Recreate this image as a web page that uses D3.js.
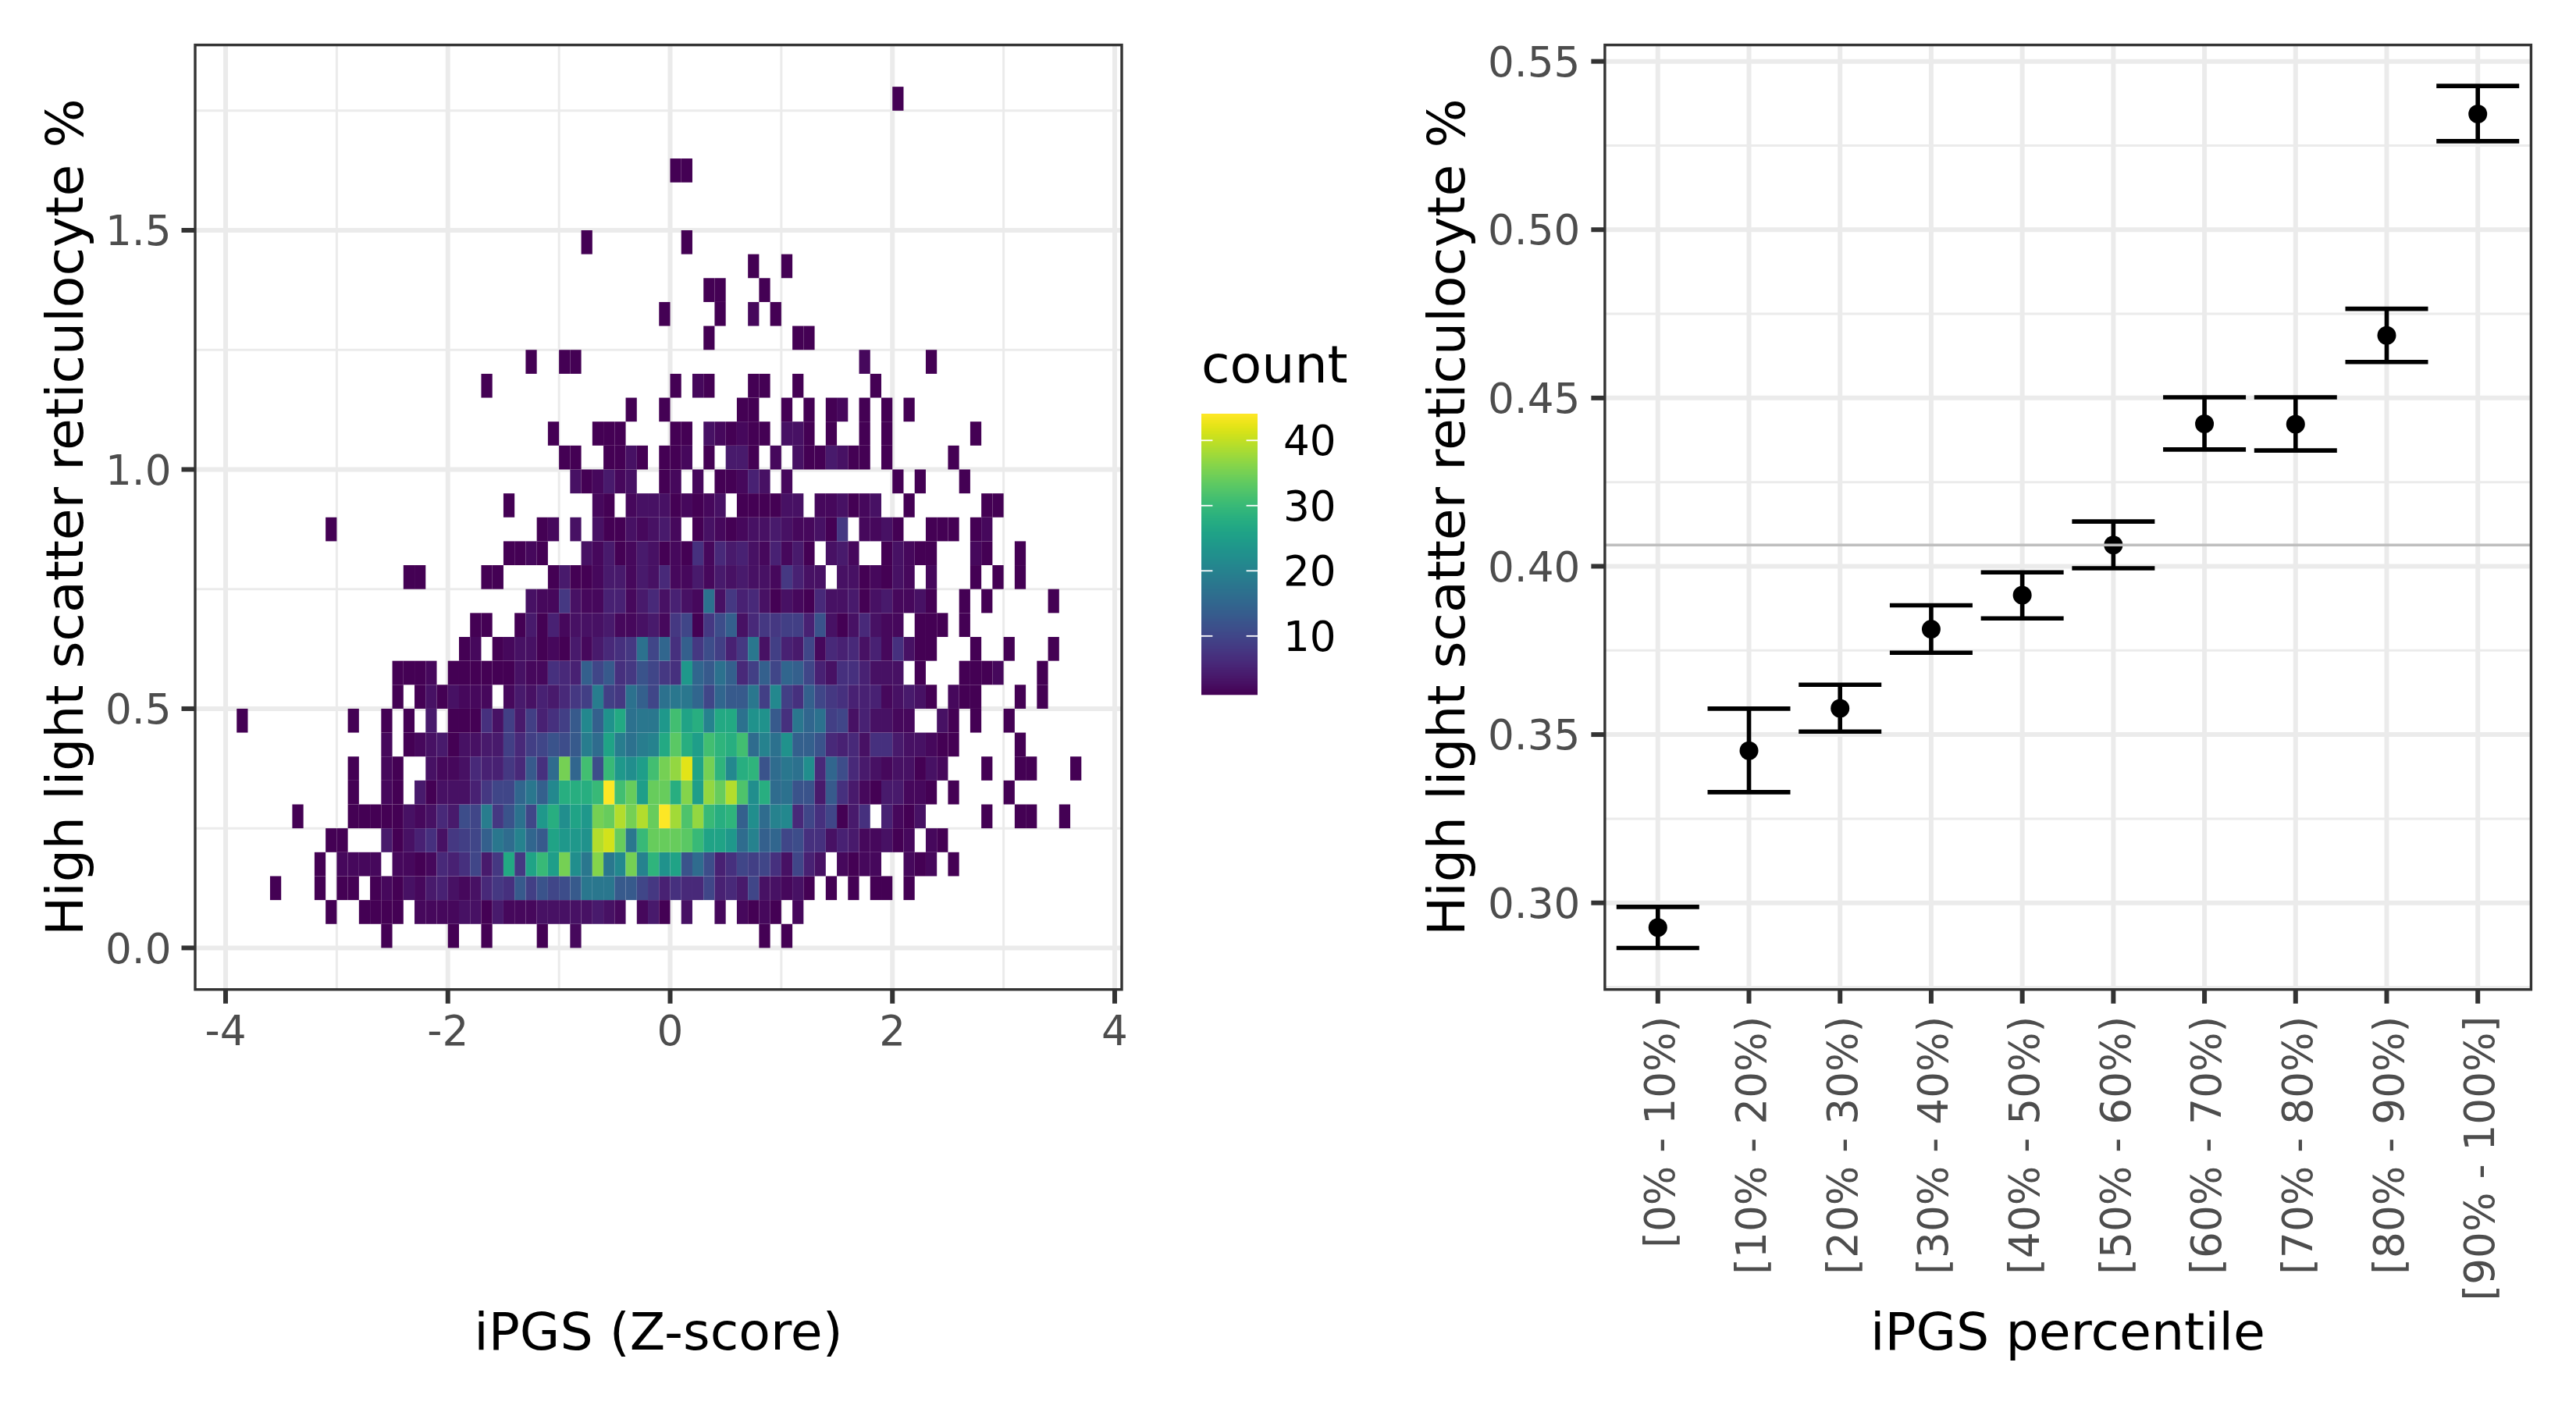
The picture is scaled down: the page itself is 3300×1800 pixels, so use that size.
<!DOCTYPE html>
<html><head><meta charset="utf-8">
<script src="https://cdn.jsdelivr.net/npm/d3@7"></script>
<style>html,body{margin:0;padding:0;background:#fff}svg{display:block}text{font-family:"DejaVu Sans",sans-serif}</style>
</head><body><svg id="c" width="3300" height="1800"></svg>
<script>
// y-bin index (bin j covers j*0.05 .. (j+1)*0.05)
const rowIndex = [0,1,2,3,4,5,6,7,8,9,10,11,12,13,14,15,16,17,18,19,20,21,22,23,24,25,26,27,28,29,32,35];
// for each row: runs of [first x-bin (bin c covers c/10 .. (c+1)/10), count, count, ...]
const rowRuns = [
[[-26,1],[-20,1],[-17,1],[-12,1],[-9,2],[8,1],[10,1]],
[[-31,1],[-28,1,1,1,1],[-23,2,2,2,2,3,3,1,4,2,2,2,3,3,3,3,3,4,3,2],[-3,2,4,1],[1,3],[4,2],[6,2,1,2,1],[11,2]],
[[-36,1],[-32,1],[-30,1,1],[-27,1,2,1,3,2,4,5,3,2,3,6,8,7,13,9,12,10,11,13,18,18,18,13,13,10,8,5,7,6,6,10,5,6,4,10,3,3,2,3,1],[14,1],[16,1],[18,1,1],[21,1]],
[[-32,1],[-30,2,2,2,2],[-25,2,2,1,2,6,5,7,10,4,8,27,8,26,30,25,35,22,18,36,18,21,35,20,29,23,26,12,16,11,5,7,10,9,10,7,3,10,5,3],[15,2,1,2,2],[21,2,1,2],[25,1]],
[[-31,1,1],[-26,4,1,3,5,7,3,8,9,10,14,18,16,20,15,13,26,24,24,23,39,41,34,18,30,34,34,34,33,30,26,26,24,16,20,14,15,10,11,7,7,3,5,4,2,2,3,1,2],[23,2,1]],
[[-34,1],[-29,1,1,1,1,1,3,2,3,6,4,11,10,19,8,12,17,10,24,28,22,26,24,35,34,39,35,39,34,44,38,32,37,30,28,29,14,22,16,20,21,6,10,7,10,1,4,7],[19,5,2,1,3],[28,1],[31,1,1],[35,1]],
[[-29,1],[-26,2,1],[-23,4,1,3,3,3,5,8,10,10,15,18,14,21,28,28,28,30,44,31,34,25,34,34,28,36,25,37,34,39,32,22,28,16,17,12,12,4,13,7,4,2,1,4,4,2,2,1],[25,1],[30,1]],
[[-29,1],[-26,2,1],[-22,3,2,2,3,6,5,5,8,6,13,7,16,35,15,31,11,30,24,22,25,31,35,37,42,26,35,29,21,28,29,12,16,18,17,22,6,15,11,6,4,3,2,3,3,1,3,2],[28,1],[31,1,1],[36,1]],
[[-26,2],[-24,1,2,3,4,1,3,3,4,4,9,6,9,10,12,11,13,19,16,26,19,17,19,20,27,33,28,25,31,29,28,31,16,20,17,23,14,14,12,6,5,6,3,7,7,4,3,3,2,1,1],[31,1]],
[[-39,1],[-29,1],[-26,1],[-24,1],[-22,4],[-20,1,1,1,7,3,9,4,9,5,7,9,13,21,14,23,27,17,18,18,24,31,26,28,20,27,27,17,23,23,13,7,18,15,17,9,10,3,5,3,3,2,2],[24,3,1],[27,1],[30,1]],
[[-25,1],[-23,1,3,1,3,2,2,2],[-15,2,4,3,5,4,6,8,9,19,9,8,17,14,10,17,18,18,15,10,15,13,13,18,9,21,9,7,14,10,8,7,5,5,5,2,3,4,3,1],[25,2,1,1],[31,1],[33,1]],
[[-25,1,1,1,2],[-20,1,1,1,1,1,1,3,2,2,7,6,5,14,10,13,7,8,12,10,8,7,24,15,13,17,14,6,9,14,10,15,14,10,5,3,7,7,5,3,3,3],[22,1],[26,1,1,1,2],[33,1]],
[[-19,1,2],[-16,1,2,3,3,1,2,1,4,2,4,6,7,8,17,10,15,7,14,8,11,9,5,8,18,3,9,5,4,10,2,6,5,6,3,5,2,7,3,1,1],[27,1],[30,1],[34,1]],
[[-18,1,1],[-14,1,4,1,5,2,3,3,3,4,2,2,3,4,2,8,10,1,8,11,14,3,6,8,8,9,9,5,12,3,1,3,6,3,2,2],[22,1,1,1],[26,1]],
[[-13,3,2,2,8,3,2,2,5,5,2,4,6,3,5,3,2,17,3,8,5,6,3,1,3,2,1,6,3,3,4,1,3,4,2,2,3,1],[26,1],[28,1],[34,1]],
[[-24,1,1],[-17,1,1],[-11,1,4,1,1,2,4,4,2,4,3,6,2,2,4,2,4,3,4,3,3,2,8,5,3,3],[15,3,3,1,2,1,3,2],[23,2],[27,1],[29,1],[31,1]],
[[-15,1,1,2,1],[-8,3,2,4,1,2,4,3,1,2,1,7,2,6,4,5,3,2,5,2,4,1],[14,3,4,2],[19,1,3,2,1,1],[27,2,1],[31,1]],
[[-31,1],[-12,1,2],[-9,3],[-7,3,1,1,3,2,3,4,2],[2,1,3,2,1,2,3,3,4,3,2,2,3,1,8],[17,2,2,3,1],[23,1,1,1],[27,1,2]],
[[-15,1],[-7,2,1],[-4,2,3,3,3,1,2,1,2,3],[6,1,1,1,1,3,3],[13,2,2,3,1,2,3],[21,1],[28,1,1]],
[[-9,3,1,2,4,2,3],[-1,1,2],[2,2],[4,1,1,2,5,3],[10,2],[20,1],[22,1],[26,1]],
[[-10,1,1],[-6,1,1,3,1],[-1,1,1,2],[3,1],[5,4,4,1],[9,2],[11,3,1,1,4,3,1,1],[19,1],[25,1]],
[[-11,1],[-7,1,1,1],[0,1,1],[3,3,2,1,2,1,1],[10,3,3,1],[14,1],[17,1],[19,1],[27,1]],
[[-4,1],[-1,1],[6,1,1],[10,1],[12,1],[14,1,2],[17,1],[19,1],[21,1]],
[[-17,1],[0,1],[2,2,1],[7,1,1],[11,1],[18,1]],
[[-13,1],[-10,1,1],[17,2],[23,1]],
[[3,1],[11,1,1]],
[[-1,1],[4,1],[7,2],[9,1]],
[[3,1,1],[8,1]],
[[7,1],[10,1]],
[[-8,1],[1,1]],
[[0,1,1]],
[[20,1]]
];
const leftXTicks = [-4,-2,0,2,4];
const leftXMinor = [-3,-1,1,3];
const leftYTicks = [0,0.5,1,1.5];
const leftYMinor = [0.25,0.75,1.25,1.75];
const legendTicks = [10,20,30,40];

const percentiles = ["[0% - 10%)","[10% - 20%)","[20% - 30%)","[30% - 40%)","[40% - 50%)","[50% - 60%)","[60% - 70%)","[70% - 80%)","[80% - 90%)","[90% - 100%]"];
const means = [0.2927,0.3452,0.3578,0.3813,0.3914,0.4063,0.4423,0.4422,0.4686,0.5344];
const uppers = [0.2988,0.3577,0.3648,0.3884,0.3982,0.4133,0.4502,0.4502,0.4765,0.5427];
const lowers = [0.2866,0.3329,0.3509,0.3743,0.3845,0.3994,0.4347,0.4344,0.4607,0.5263];
const overallMean = 0.4063;
const rightYTicks = [0.30,0.35,0.40,0.45,0.50,0.55];
const rightYMinor = [0.275,0.325,0.375,0.425,0.475,0.525];

const svg = d3.select("#c");
const MAJOR=6, MINOR=3, GRID="#EBEBEB", TICK="#333333", TXT="#4D4D4D";
const TS=53.2, TITLE=66.5;

function panel(box, xs, ys, xMajor, xMinor, yMajor, yMinor){
  const g = svg.append("g");
  g.append("rect").attr("x",box.l).attr("y",box.t).attr("width",box.r-box.l).attr("height",box.b-box.t).attr("fill","#fff");
  const id="clip"+box.l;
  svg.append("clipPath").attr("id",id).append("rect").attr("x",box.l).attr("y",box.t).attr("width",box.r-box.l).attr("height",box.b-box.t);
  const gg=g.append("g").attr("clip-path",`url(#${id})`);
  const vl=(arr,w)=>gg.selectAll(null).data(arr).join("line").attr("x1",d=>xs(d)).attr("x2",d=>xs(d)).attr("y1",box.t).attr("y2",box.b).attr("stroke",GRID).attr("stroke-width",w);
  const hl=(arr,w)=>gg.selectAll(null).data(arr).join("line").attr("y1",d=>ys(d)).attr("y2",d=>ys(d)).attr("x1",box.l).attr("x2",box.r).attr("stroke",GRID).attr("stroke-width",w);
  hl(yMinor,MINOR); vl(xMinor,MINOR); hl(yMajor,MAJOR); vl(xMajor,MAJOR);
  return gg;
}
function styleAxis(a){
  a.select(".domain").remove();
  a.selectAll(".tick line").attr("stroke",TICK).attr("stroke-width",MAJOR);
  a.selectAll(".tick text").attr("fill",TXT).style("font-size",TS+"px").style("font-family",'"DejaVu Sans"');
}
function border(box){
  svg.append("rect").attr("x",box.l).attr("y",box.t).attr("width",box.r-box.l).attr("height",box.b-box.t).attr("fill","none").attr("stroke",TICK).attr("stroke-width",3.4);
}
function title(txt,x,y,rot,anchor){
  const t=svg.append("text").text(txt).attr("font-size",TITLE).attr("fill","#000").attr("text-anchor",anchor||"middle");
  t.attr("transform",`translate(${x},${y})`+(rot?` rotate(${rot})`:""));
}

/* left panel */
const L={l:250,r:1437,t:57.6,b:1267.7};
const xL=d3.scaleLinear().domain([-4,4]).range([289,1428]);
const yL=d3.scaleLinear().domain([0,1.5]).range([1214.4,295]);
const color=d3.scaleSequential(d3.interpolateViridis).domain([1,44]);
const gL=panel(L,xL,yL,leftXTicks,leftXMinor,leftYTicks,leftYMinor);
const tiles=[];
rowRuns.forEach((runs,i)=>runs.forEach(run=>run.slice(1).forEach((n,k)=>tiles.push({j:rowIndex[i],c:run[0]+k,n}))));
gL.selectAll("rect.tile").data(tiles).join("rect").attr("class","tile")
  .attr("x",d=>xL(d.c/10)).attr("width",d=>xL((d.c+1)/10)-xL(d.c/10))
  .attr("y",d=>yL((d.j+1)*0.05)).attr("height",d=>yL(d.j*0.05)-yL((d.j+1)*0.05))
  .attr("fill",d=>color(d.n));
border(L);
const axLx=svg.append("g").attr("transform",`translate(0,${L.b})`).call(d3.axisBottom(xL).tickValues(leftXTicks).tickFormat(d3.format("d")).tickSize(18).tickPadding(16).offset(0));
const axLy=svg.append("g").attr("transform",`translate(${L.l},0)`).call(d3.axisLeft(yL).tickValues(leftYTicks).tickFormat(d3.format(".1f")).tickSize(17.5).tickPadding(13).offset(0));
[axLx,axLy].forEach(styleAxis);
axLy.selectAll(".tick text").attr("dy","0.36em");
axLx.selectAll(".tick text").text(d=>d<0?"-"+Math.abs(d):d);
title("High light scatter reticulocyte %",105.5,662.6,-90);
title("iPGS (Z-score)",843.5,1729);

/* legend */
title("count",1539,490,0,"start");
const yLeg=d3.scaleLinear().domain([1,44.1]).range([890,530]);
const legG=svg.append("g");
const legSteps=d3.range(0,360);
legG.selectAll("rect").data(legSteps).join("rect").attr("x",1539).attr("width",72)
  .attr("y",d=>530+d).attr("height",1.3)
  .attr("fill",d=>color(yLeg.invert(530+d+0.5)));
legG.selectAll("line.l").data(legendTicks).join("line").attr("x1",1539).attr("x2",1553.4).attr("y1",d=>yLeg(d)).attr("y2",d=>yLeg(d)).attr("stroke","#fff").attr("stroke-width",1.8);
legG.selectAll("line.r").data(legendTicks).join("line").attr("x1",1596.6).attr("x2",1611).attr("y1",d=>yLeg(d)).attr("y2",d=>yLeg(d)).attr("stroke","#fff").attr("stroke-width",1.8);
legG.selectAll("text").data(legendTicks).join("text").text(d=>d).attr("x",1644).attr("y",d=>yLeg(d)).attr("dy","0.36em").attr("font-size",TS).attr("fill","#000");

/* right panel */
const R={l:2055.9,r:3242.4,t:57.6,b:1267.7};
const xR=d3.scalePoint().domain(percentiles).range([2123.8,3174.2]);
const yR=d3.scaleLinear().domain([0.30,0.55]).range([1156.7,78.65]);
const capW=106;
const xPos=i=>xR(percentiles[i]);
const gR=panel(R,d=>xR(d),yR,percentiles,[],rightYTicks,rightYMinor);
const idx=d3.range(percentiles.length);
gR.selectAll("line.v").data(idx).join("line").attr("class","v").attr("x1",xPos).attr("x2",xPos).attr("y1",i=>yR(uppers[i])).attr("y2",i=>yR(lowers[i])).attr("stroke","#000").attr("stroke-width",5.6);
[uppers,lowers].forEach((arr,n)=>gR.selectAll("line.c"+n).data(idx).join("line").attr("class","c"+n).attr("x1",i=>xPos(i)-capW/2).attr("x2",i=>xPos(i)+capW/2).attr("y1",i=>yR(arr[i])).attr("y2",i=>yR(arr[i])).attr("stroke","#000").attr("stroke-width",5.6));
gR.selectAll("circle").data(idx).join("circle").attr("cx",xPos).attr("cy",i=>yR(means[i])).attr("r",12).attr("fill","#000");
gR.append("line").attr("x1",R.l).attr("x2",R.r).attr("y1",yR(overallMean)).attr("y2",yR(overallMean)).attr("stroke","#BEBEBE").attr("stroke-width",3.6);
border(R);
const axRx=svg.append("g").attr("transform",`translate(0,${R.b})`).call(d3.axisBottom(xR).tickSize(18).offset(0));
const axRy=svg.append("g").attr("transform",`translate(${R.l},0)`).call(d3.axisLeft(yR).tickValues(rightYTicks).tickFormat(d3.format(".2f")).tickSize(17.5).tickPadding(14).offset(0));
[axRx,axRy].forEach(styleAxis);
axRy.selectAll(".tick text").attr("dy","0.36em");
axRx.selectAll(".tick text").attr("transform","rotate(-90)").attr("text-anchor","end").attr("x",-34).attr("y",0).attr("dy","0.40em");
title("High light scatter reticulocyte %",1876,662.6,-90);
title("iPGS percentile",2649,1729);
</script></body></html>
